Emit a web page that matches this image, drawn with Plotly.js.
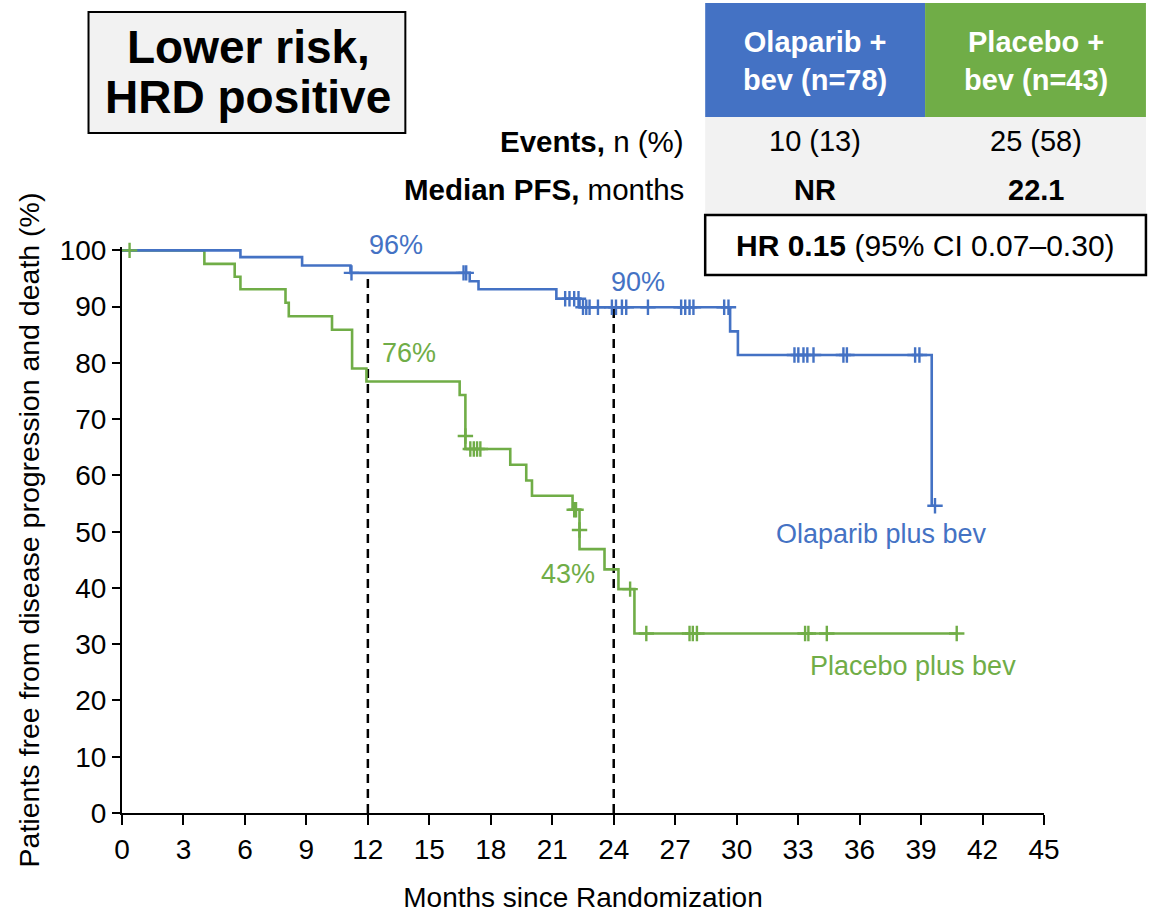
<!DOCTYPE html>
<html>
<head>
<meta charset="utf-8">
<script src="https://cdn.plot.ly/plotly-3.0.1.min.js"></script>
<style>
  html, body { margin: 0; padding: 0; background: #ffffff; }
  #chart { width: 1153px; height: 913px; }
</style>
</head>
<body>
<div id="chart"></div>
<script>
// ---------- Data ----------
// Olaparib plus bev: Kaplan–Meier step points (months, % free from progression)
const olaTimes = [0, 5.78, 8.79, 11.15, 16.97, 17.40, 21.20, 22.33, 29.68, 30.06, 39.52, 39.68];
const olaSurv  = [100, 98.8, 97.3, 96.0, 94.5, 93.1, 91.4, 89.9, 85.6, 81.4, 54.6, 54.6];
// Olaparib plus bev: censored observations
const olaCensorTimes = [11.20, 16.67, 16.80, 21.63, 21.84, 22.07, 22.28,
  22.50, 22.66, 22.82, 23.23, 23.91, 24.11, 24.40, 24.61, 25.67, 27.29, 27.49, 27.70, 27.89, 29.39, 29.60,
  32.82, 33.01, 33.26, 33.45, 33.75, 35.21, 35.38, 38.71, 38.92, 39.68];
const olaCensorSurv  = [96.0, 96.0, 96.0, 91.4, 91.4, 91.4, 91.4,
  89.9, 89.9, 89.9, 89.9, 89.9, 89.9, 89.9, 89.9, 89.9, 89.9, 89.9, 89.9, 89.9, 89.9, 89.9,
  81.4, 81.4, 81.4, 81.4, 81.4, 81.4, 81.4, 81.4, 81.4, 54.6];

// Placebo plus bev: step points
const plaTimes = [0, 4.02, 5.50, 5.78, 7.98, 8.14, 10.25, 11.23, 11.93, 16.48, 16.76, 16.76,
  18.95, 19.73, 20.01, 21.99, 22.33, 22.33, 23.55, 24.23, 25.01, 40.74];
const plaSurv  = [100, 97.6, 95.3, 93.1, 90.7, 88.3, 85.9, 79.0, 76.7, 74.3, 67.0, 64.7,
  61.9, 59.1, 56.4, 53.9, 50.3, 46.9, 43.3, 39.8, 31.9, 31.9];
// Placebo plus bev: censored observations
const plaCensorTimes = [0.37, 16.76, 17.00, 17.17, 17.33, 17.49, 22.07, 22.16, 22.33, 24.80,
  25.59, 27.70, 27.86, 28.06, 33.34, 33.50, 34.40, 40.74];
const plaCensorSurv  = [100, 67.0, 64.7, 64.7, 64.7, 64.7, 53.9, 53.9, 50.3, 39.8,
  31.9, 31.9, 31.9, 31.9, 31.9, 31.9, 31.9, 31.9];

// Landmark lines and labels
const landmarkMonths = [12, 24];
const landmarkOla = [96.0, 89.9];
const landmarkLabels = [
  {text: '96%', x: 13.39, y: 100.9, arm: 'ola'},
  {text: '90%', x: 25.2, y: 94.4, arm: 'ola'},
  {text: '76%', x: 14.02, y: 81.8, arm: 'pla'},
  {text: '43%', x: 21.78, y: 42.5, arm: 'pla'}
];
const armLabels = [
  {text: 'Olaparib plus bev', x: 37.07, y: 49.6, arm: 'ola'},
  {text: 'Placebo plus bev', x: 38.6, y: 26.2, arm: 'pla'}
];

// Table content
const armHeaders = ['Olaparib +<br>bev (n=78)', 'Placebo +<br>bev (n=43)'];
const eventsRow = ['10 (13)', '25 (58)'];
const medianRow = ['NR', '22.1'];
const hrText = '<b>HR 0.15</b> (95% CI 0.07–0.30)';
const xTicks = [0, 3, 6, 9, 12, 15, 18, 21, 24, 27, 30, 33, 36, 39, 42, 45];
const yTicks = [0, 10, 20, 30, 40, 50, 60, 70, 80, 90, 100];

// ---------- Styling ----------
const BLUE = '#4472c4';
const GREEN = '#70ad47';
const FONT = 'Liberation Sans, Arial, Helvetica, sans-serif';
const colorOf = {ola: BLUE, pla: GREEN};

// plot area in pixels
const W = 1153, H = 913;
const L = 121.5, R = 1044, T = 247, B = 813;
const YMAX = 100.6, XMAX = 45;
const px = x => (x - L) / (R - L);
const py = y => (B - y) / (B - T);

const stepLine = (x, y, c) => ({
  x: x, y: y, type: 'scatter', mode: 'lines',
  line: {color: c, width: 2.6, shape: 'hv'},
  hoverinfo: 'skip', showlegend: false
});
const censor = (x, y, c) => ({
  x: x, y: y, type: 'scatter', mode: 'markers',
  marker: {symbol: 'cross-thin-open', size: 11, color: c, line: {color: c, width: 2.4}},
  hoverinfo: 'skip', showlegend: false, cliponaxis: false
});

const data = [
  stepLine(plaTimes, plaSurv, GREEN),
  stepLine(olaTimes, olaSurv, BLUE),
  censor(plaCensorTimes, plaCensorSurv, GREEN),
  censor(olaCensorTimes, olaCensorSurv, BLUE)
];

const shapes = [];
const annotations = [];

// dashed landmark lines
landmarkMonths.forEach((m, i) => {
  shapes.push({type: 'line', xref: 'x', yref: 'y', x0: m, x1: m, y0: 0, y1: landmarkOla[i],
    line: {color: '#000', width: 2.5, dash: '9px,6px'}, layer: 'below'});
});

// curve labels (placed in paper space from data-unit positions so they are never hidden)
landmarkLabels.concat(armLabels).forEach(a => {
  annotations.push({text: a.text, x: a.x / XMAX, y: a.y / YMAX, xref: 'paper', yref: 'paper', showarrow: false,
    xanchor: 'center', yanchor: 'middle', font: {family: FONT, size: 27, color: colorOf[a.arm]}});
});

// title box
shapes.push({type: 'rect', xref: 'paper', yref: 'paper', x0: px(88), x1: px(405), y0: py(12), y1: py(133),
  fillcolor: '#f2f2f2', line: {color: '#000', width: 2}});
annotations.push({text: '<b>Lower risk,</b>', xref: 'paper', yref: 'paper', x: px(248), y: py(47),
  showarrow: false, xanchor: 'center', yanchor: 'middle', font: {family: FONT, size: 46, color: '#000'}});
annotations.push({text: '<b>HRD positive</b>', xref: 'paper', yref: 'paper', x: px(248), y: py(97),
  showarrow: false, xanchor: 'center', yanchor: 'middle', font: {family: FONT, size: 46, color: '#000'}});

// table
const colX = [[705, 925], [925, 1146]];
const colFill = [BLUE, GREEN];
colX.forEach((c, i) => {
  shapes.push({type: 'rect', xref: 'paper', yref: 'paper', x0: px(c[0]), x1: px(c[1]), y0: py(3), y1: py(117),
    fillcolor: colFill[i], line: {width: 0}});
  const cx = (c[0] + c[1]) / 2;
  annotations.push({text: '<b>' + armHeaders[i] + '</b>', xref: 'paper', yref: 'paper', x: px(cx), y: py(61),
    showarrow: false, xanchor: 'center', yanchor: 'middle', font: {family: FONT, size: 29, color: '#fff'}});
  annotations.push({text: eventsRow[i], xref: 'paper', yref: 'paper', x: px(cx), y: py(141),
    showarrow: false, xanchor: 'center', yanchor: 'middle', font: {family: FONT, size: 29, color: '#000'}});
  annotations.push({text: '<b>' + medianRow[i] + '</b>', xref: 'paper', yref: 'paper', x: px(cx), y: py(190),
    showarrow: false, xanchor: 'center', yanchor: 'middle', font: {family: FONT, size: 29, color: '#000'}});
});
shapes.push({type: 'rect', xref: 'paper', yref: 'paper', x0: px(705), x1: px(1146), y0: py(117), y1: py(215),
  fillcolor: '#f2f2f2', line: {width: 0}});
shapes.push({type: 'rect', xref: 'paper', yref: 'paper', x0: px(705), x1: px(1146), y0: py(215), y1: py(275),
  fillcolor: '#fff', line: {color: '#000', width: 2.5}});
annotations.push({text: hrText, xref: 'paper', yref: 'paper', x: px(925), y: py(245),
  showarrow: false, xanchor: 'center', yanchor: 'middle', font: {family: FONT, size: 30, color: '#000'}});
annotations.push({text: '<b>Events,</b> n (%)', xref: 'paper', yref: 'paper', x: px(686), y: py(141),
  showarrow: false, xanchor: 'right', yanchor: 'middle', font: {family: FONT, size: 29.5, color: '#000'}});
annotations.push({text: '<b>Median PFS,</b> months', xref: 'paper', yref: 'paper', x: px(686), y: py(190),
  showarrow: false, xanchor: 'right', yanchor: 'middle', font: {family: FONT, size: 29.5, color: '#000'}});

const layout = {
  width: W, height: H,
  margin: {l: L, r: W - R, t: T, b: H - B, pad: 0},
  paper_bgcolor: '#fff', plot_bgcolor: '#fff',
  font: {family: FONT, color: '#000'},
  showlegend: false,
  xaxis: {
    range: [0, XMAX], tickvals: xTicks, ticktext: xTicks.map(String),
    showgrid: false, zeroline: false, showline: true, linecolor: '#000', linewidth: 2,
    ticks: 'outside', ticklen: 10, tickwidth: 2, tickcolor: '#000',
    tickfont: {family: FONT, size: 28, color: '#000'},
    title: {text: 'Months since Randomization', font: {family: FONT, size: 28, color: '#000'}, standoff: 24}
  },
  yaxis: {
    range: [0, YMAX], tickvals: yTicks, ticktext: yTicks.map(String),
    showgrid: false, zeroline: false, showline: true, linecolor: '#000', linewidth: 2,
    ticks: 'outside', ticklen: 8, tickwidth: 2, tickcolor: '#000',
    tickfont: {family: FONT, size: 28, color: '#000'},
    title: {text: 'Patients free from disease progression and death (%)', font: {family: FONT, size: 28.5, color: '#000'}, standoff: 12}
  },
  shapes: shapes,
  annotations: annotations
};

Plotly.newPlot('chart', data, layout, {staticPlot: true, displayModeBar: false});
</script>
</body>
</html>
